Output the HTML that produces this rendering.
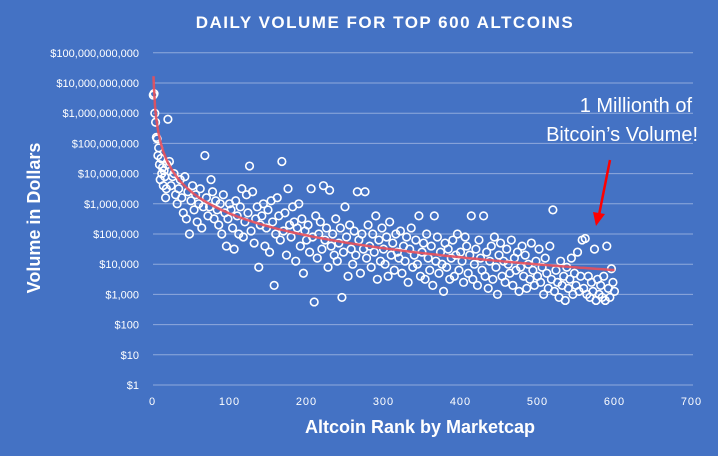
<!DOCTYPE html>
<html><head><meta charset="utf-8">
<style>
html,body{margin:0;padding:0;background:#4472C4;}
svg{display:block;font-family:"Liberation Sans",Calibri,sans-serif;}
</style></head>
<body>
<svg id="chart" width="718" height="456" viewBox="0 0 718 456" xmlns="http://www.w3.org/2000/svg">
<rect x="0" y="0" width="718" height="456" fill="#4472C4"/>
<text x="385" y="28" text-anchor="middle" fill="#fff" font-size="17" font-weight="bold" letter-spacing="1.5">DAILY VOLUME FOR TOP 600 ALTCOINS</text>
<g id="grid"></g>
<g id="yticks"></g>
<g id="xticks"></g>
<text transform="translate(40,218) rotate(-90)" text-anchor="middle" fill="#fff" font-size="18" font-weight="bold">Volume in Dollars</text>
<text x="420" y="433" text-anchor="middle" fill="#fff" font-size="18" font-weight="bold">Altcoin Rank by Marketcap</text>
<g id="points"></g>
<path id="trend" fill="none" stroke="#E8505B" stroke-width="2.5" opacity="0.9"/>
<text fill="#fff" font-size="20" text-anchor="end"><tspan x="692" y="112">1 Millionth of</tspan><tspan x="698" y="141">Bitcoin’s Volume!</tspan></text>
<g>
<line x1="610" y1="160" x2="599" y2="215" stroke="#FF0000" stroke-width="2.5"/>
<polygon points="596,226 593,212 605,214" fill="#FF0000"/>
</g>
</svg>
<script>
const yTickExps=[0,1,2,3,4,5,6,7,8,9,10,11];
const yTickLabels=["$1","$10","$100","$1,000","$10,000","$100,000","$1,000,000","$10,000,000","$100,000,000","$1,000,000,000","$10,000,000,000","$100,000,000,000"];
const xTicks=[0,100,200,300,400,500,600,700];
const trendLog10Intercept=10.5;
const trendSlope=-2.41;
const ranks=[1,2,3,4,5,6,7,8,9,10,11,12,13,14,15,16,17,18,19,20,
22,24,26,28,30,32,34,36,38,40,42,44,46,48,50,52,54,56,58,60,
62,64,66,68,70,72,74,76,78,80,82,84,86,88,90,92,94,96,98,100,
102,104,106,108,110,112,114,116,118,120,122,124,126,128,130,132,134,136,138,140,
142,144,146,148,150,152,154,156,158,160,162,164,166,168,170,172,174,176,178,180,
182,184,186,188,190,192,194,196,198,200,202,204,206,208,210,212,214,216,218,220,
222,224,226,228,230,232,234,236,238,240,242,244,246,248,250,252,254,256,258,260,
262,264,266,268,270,272,274,276,278,280,282,284,286,288,290,292,294,296,298,300,
302,304,306,308,310,312,314,316,318,320,322,324,326,328,330,332,334,336,338,340,
342,344,346,348,350,352,354,356,358,360,362,364,366,368,370,372,374,376,378,380,
382,384,386,388,390,392,394,396,398,400,402,404,406,408,410,412,414,416,418,420,
422,424,426,428,430,432,434,436,438,440,442,444,446,448,450,452,454,456,458,460,
462,464,466,468,470,472,474,476,478,480,482,484,486,488,490,492,494,496,498,500,
502,504,506,508,510,512,514,516,518,520,522,524,526,528,530,532,534,536,538,540,
542,544,546,548,550,552,554,556,558,560,562,564,566,568,570,572,574,576,578,580,
582,584,586,588,590,592,594,596,598,600];
const volumeLog10=[9.6,9.65,9.0,8.7,8.2,8.15,7.6,7.85,7.3,6.8,7.5,7.0,7.2,6.6,7.1,6.9,6.2,6.5,7.3,8.8,
7.4,6.6,6.9,7.0,6.3,6.0,6.5,6.8,6.2,5.7,
6.9,5.5,6.4,5.0,6.1,6.6,5.8,6.3,5.4,6.0,
6.5,5.2,5.9,7.6,6.2,5.6,5.9,6.8,6.4,5.5,
6.1,5.8,5.3,6.0,5.0,6.3,5.7,4.6,5.5,6.0,
5.8,5.2,4.5,6.1,5.6,5.0,5.9,6.5,4.9,5.4,
6.3,5.7,7.25,5.1,6.4,4.7,5.5,5.9,3.9,5.3,
5.6,6.0,4.6,5.2,5.8,4.4,6.1,5.4,3.3,5.0,
6.2,5.6,4.8,7.4,5.1,5.7,4.3,6.5,5.3,4.9,
5.9,5.4,4.1,5.2,6.0,4.6,5.5,3.7,5.1,4.8,
5.3,4.4,6.5,4.9,2.75,5.6,4.2,5.0,5.4,4.5,
6.6,4.8,5.2,3.9,6.45,4.6,5.0,4.3,5.5,4.1,
4.7,5.2,2.9,4.4,5.9,4.9,3.6,5.3,4.5,4.0,
5.1,4.3,6.4,4.8,3.7,5.0,4.5,6.4,4.2,5.3,
4.6,3.9,5.0,4.4,5.6,3.5,4.8,4.1,5.2,4.5,
4.0,4.9,3.6,5.4,4.3,4.7,3.8,5.0,4.4,4.2,
5.1,3.7,4.6,4.1,4.9,3.4,4.5,5.2,3.9,4.3,
4.8,4.0,5.6,3.6,4.4,4.7,3.5,5.0,4.2,3.8,
4.6,3.3,5.6,4.1,4.9,3.7,4.4,4.0,3.1,4.7,
3.9,4.5,3.5,4.2,4.8,3.6,4.3,5.0,3.8,4.4,
4.1,3.4,4.9,4.6,3.7,4.3,5.6,3.5,4.0,4.5,
3.3,4.8,4.2,3.8,5.6,3.6,4.4,3.2,4.1,4.6,
3.5,4.9,3.9,3.0,4.3,4.7,3.6,4.1,3.4,4.5,
4.0,3.7,4.8,3.3,4.2,3.8,4.4,3.1,3.9,4.6,
3.6,4.3,3.2,4.0,3.5,4.7,3.8,3.3,4.1,3.6,
4.5,3.4,3.9,3.0,4.2,3.7,3.2,4.6,3.5,5.8,
3.1,3.8,3.4,2.9,4.1,3.3,3.6,2.8,3.9,3.2,
3.5,4.2,3.0,3.7,3.3,4.4,3.1,3.6,4.8,3.2,
4.85,3.0,3.6,2.9,3.4,3.1,4.5,2.8,3.5,3.0,
3.3,2.9,3.6,2.8,4.6,3.2,2.9,3.85,3.4,3.1];

const NS="http://www.w3.org/2000/svg";
const X0=152.5, XPER=0.77;      // px per rank
const Y0=385, YDEC=30.2;         // px per decade
function xScale(r){return X0+r*XPER;}
function yScale(e){return Y0-e*YDEC;}
function mk(tag,attrs,parent){const el=document.createElementNS(NS,tag);for(const k in attrs)el.setAttribute(k,attrs[k]);parent.appendChild(el);return el;}

const grid=document.getElementById('grid');
const yt=document.getElementById('yticks');
yTickExps.forEach((e,i)=>{
  const gl=mk('line',{x1:153,x2:693,y1:yScale(e),y2:yScale(e),stroke:'#8FAADC','stroke-width':1},grid);
  
  
  const t=mk('text',{x:139,y:yScale(e)+4,'text-anchor':'end',fill:'#fff','font-size':11},yt);
  t.textContent=yTickLabels[i];
  
  
});
const xt=document.getElementById('xticks');
xTicks.forEach(v=>{
  const t=mk('text',{x:xScale(v),y:405,'text-anchor':'middle',fill:'#fff','font-size':11,'letter-spacing':1},xt);
  t.textContent=v;
  
  
});
const pts=document.getElementById('points');
ranks.forEach((r,i)=>{
  const c=mk('circle',{cx:xScale(r),cy:yScale(volumeLog10[i]),r:3.8,fill:'none',stroke:'#fff','stroke-width':1.6},pts);
  
  
});
let d='';
for(let r=1.3;r<=600;r+=(r<20?0.5:5)){
  const e=trendLog10Intercept+trendSlope*Math.log10(r);
  d+=(d?'L':'M')+xScale(r).toFixed(1)+','+yScale(e).toFixed(1);
}
d+='L'+xScale(600).toFixed(1)+','+yScale(trendLog10Intercept+trendSlope*Math.log10(600)).toFixed(1);
document.getElementById('trend').setAttribute('d',d);
</script>
</body></html>
